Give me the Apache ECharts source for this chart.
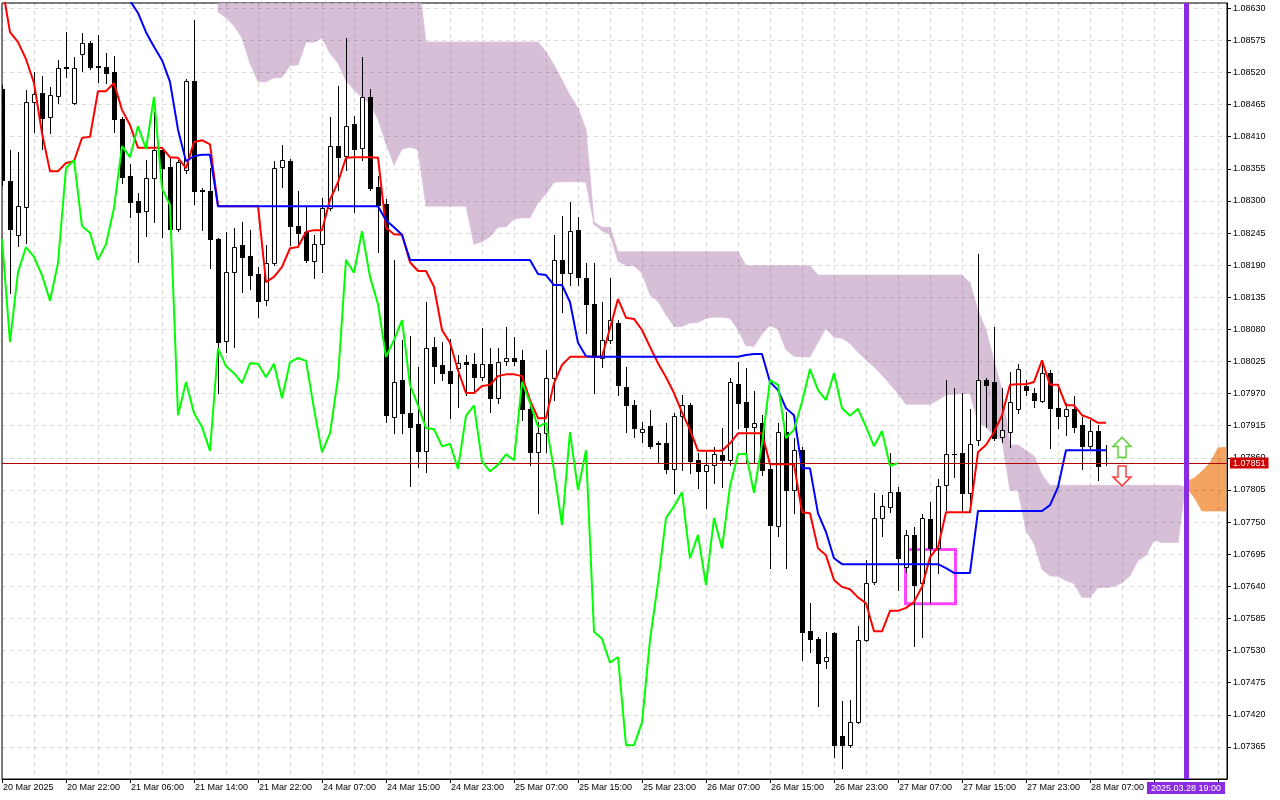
<!DOCTYPE html>
<html>
<head>
<meta charset="utf-8">
<title>EURUSD H1 Ichimoku</title>
<script src="https://cdn.jsdelivr.net/npm/echarts@6.0.0/dist/echarts.min.js"></script>
<style>
html,body{margin:0;padding:0;background:#ffffff;overflow:hidden;}
#chart{width:1280px;height:800px;}
</style>
</head>
<body>
<div id="chart"></div>
<script>
// ---------- tick labels (one every 8 hourly bars) ----------
const xLabels = ['20 Mar 2025','20 Mar 22:00','21 Mar 06:00','21 Mar 14:00','21 Mar 22:00',
  '24 Mar 07:00','24 Mar 15:00','24 Mar 23:00','25 Mar 07:00','25 Mar 15:00','25 Mar 23:00',
  '26 Mar 07:00','26 Mar 15:00','26 Mar 23:00','27 Mar 07:00','27 Mar 15:00','27 Mar 23:00',
  '28 Mar 07:00',''];

// ---------- candles, bar 0 .. 138 ----------
const opens = [
1.08492,1.08334,1.08242,1.08290,1.08469,1.08485,1.08444,1.08480,1.08529,1.08468,
1.08552,1.08571,1.08531,1.08529,1.08521,1.08440,1.08343,1.08300,1.08283,1.08339,
1.08387,1.08358,1.08252,1.08353,1.08505,1.08319,1.08317,1.08235,1.08060,1.08178,
1.08225,1.08206,1.08175,1.08130,1.08194,1.08358,1.08368,1.08257,1.08247,1.08197,
1.08226,1.08288,1.08394,1.08377,1.08432,1.08391,1.08478,1.08324,1.08295,1.07930,
1.07993,1.07937,1.07918,1.07872,1.08050,1.08019,1.08009,1.08014,1.08024,1.08021,
1.07998,1.08021,1.07962,1.08026,1.08031,1.08027,1.07944,1.07870,1.07902,1.07997,
1.08199,1.08177,1.08250,1.08168,1.08123,1.08031,1.08062,1.08091,1.07981,1.07950,
1.07904,1.07914,1.07885,1.07885,1.07841,1.07932,1.07950,1.07856,1.07837,1.07848,
1.07865,1.07856,1.07986,1.07956,1.07913,1.07920,1.07841,1.07743,1.07904,1.07805,
1.07873,1.07563,1.07550,1.07512,1.07560,1.07383,1.07368,1.07407,1.07548,1.07647,
1.07757,1.07776,1.07801,1.07673,1.07728,1.07646,1.07755,1.07705,1.07813,1.07866,
1.07868,1.07800,1.07891,1.07993,1.07990,1.07896,1.07904,1.07944,1.07983,1.07971,
1.07957,1.08005,1.07945,1.07932,1.07944,1.07916,1.07880,1.07906,1.07852];
const highs = [
1.08499,1.08387,1.08384,1.08490,1.08521,1.08514,1.08495,1.08541,1.08589,1.08547,
1.08588,1.08574,1.08584,1.08553,1.08548,1.08444,1.08363,1.08314,1.08370,1.08452,
1.08392,1.08374,1.08370,1.08509,1.08610,1.08322,1.08356,1.08237,1.08247,1.08254,
1.08264,1.08250,1.08187,1.08225,1.08368,1.08396,1.08372,1.08317,1.08290,1.08242,
1.08305,1.08444,1.08497,1.08579,1.08446,1.08547,1.08492,1.08343,1.08303,1.08199,
1.08062,1.08069,1.08015,1.08127,1.08067,1.08058,1.08063,1.08036,1.08036,1.08039,
1.08082,1.08048,1.08048,1.08084,1.08067,1.08045,1.07959,1.07921,1.08045,1.08242,
1.08274,1.08298,1.08273,1.08194,1.08194,1.08127,1.08168,1.08096,1.08015,1.07959,
1.07921,1.07942,1.07889,1.07920,1.07937,1.07968,1.07954,1.07868,1.07870,1.07878,
1.07911,1.07997,1.08024,1.08014,1.07974,1.07933,1.07851,1.07920,1.07938,1.07894,
1.07878,1.07611,1.07553,1.07562,1.07562,1.07443,1.07445,1.07572,1.07685,1.07800,
1.07796,1.07868,1.07810,1.07736,1.07741,1.07764,1.07784,1.07824,1.07993,1.07980,
1.07971,1.07944,1.08209,1.07997,1.08084,1.07980,1.08007,1.08021,1.07993,1.07980,
1.08021,1.08010,1.07986,1.07954,1.07966,1.07930,1.07925,1.07916,1.07882];
const lows = [
1.08327,1.08142,1.08223,1.08228,1.08418,1.08389,1.08416,1.08468,1.08512,1.08466,
1.08523,1.08526,1.08504,1.08502,1.08418,1.08331,1.08273,1.08195,1.08240,1.08264,
1.08238,1.08245,1.08248,1.08348,1.08295,1.08250,1.08185,1.07971,1.08041,1.08050,
1.08144,1.08149,1.08101,1.08122,1.08190,1.08324,1.08225,1.08225,1.08195,1.08168,
1.08178,1.08285,1.08319,1.08353,1.08281,1.08370,1.08319,1.08213,1.07921,1.07902,
1.07902,1.07812,1.07844,1.07836,1.07988,1.07993,1.07928,1.07947,1.07967,1.07973,
1.07993,1.07938,1.07954,1.08019,1.08019,1.07925,1.07848,1.07765,1.07870,1.07959,
1.08110,1.08156,1.08156,1.08074,1.07971,1.08015,1.08057,1.07968,1.07904,1.07896,
1.07887,1.07877,1.07851,1.07834,1.07800,1.07839,1.07834,1.07808,1.07774,1.07817,
1.07810,1.07848,1.07911,1.07853,1.07853,1.07830,1.07671,1.07726,1.07671,1.07765,
1.07514,1.07527,1.07435,1.07500,1.07347,1.07329,1.07365,1.07406,1.07546,1.07644,
1.07726,1.07767,1.07634,1.07664,1.07538,1.07553,1.07613,1.07663,1.07771,1.07827,
1.07767,1.07767,1.07882,1.07913,1.07891,1.07887,1.07878,1.07937,1.07968,1.07947,
1.07956,1.07877,1.07911,1.07899,1.07904,1.07841,1.07877,1.07822,1.07848];
const closes = [
1.08336,1.08252,1.08291,1.08469,1.08483,1.08442,1.08481,1.08528,1.08528,1.08528,
1.08571,1.08529,1.08529,1.08519,1.08440,1.08341,1.08298,1.08281,1.08339,1.08387,
1.08356,1.08252,1.08367,1.08505,1.08317,1.08317,1.08235,1.08058,1.08178,1.08221,
1.08204,1.08173,1.08129,1.08194,1.08356,1.08370,1.08257,1.08245,1.08199,1.08226,
1.08288,1.08394,1.08375,1.08428,1.08389,1.08478,1.08322,1.08293,1.07933,1.07990,
1.07937,1.07913,1.07872,1.08048,1.08017,1.08005,1.07988,1.08022,1.08021,1.07998,
1.08021,1.07962,1.08024,1.08031,1.08026,1.07944,1.07870,1.07902,1.07997,1.08199,
1.08177,1.08248,1.08170,1.08123,1.08033,1.08062,1.08096,1.07985,1.07950,1.07911,
1.07909,1.07880,1.07884,1.07841,1.07932,1.07950,1.07854,1.07837,1.07848,1.07866,
1.07856,1.07990,1.07954,1.07913,1.07920,1.07839,1.07745,1.07904,1.07805,1.07873,
1.07562,1.07550,1.07509,1.07519,1.07368,1.07368,1.07407,1.07548,1.07646,1.07757,
1.07777,1.07801,1.07688,1.07728,1.07642,1.07757,1.07705,1.07812,1.07866,1.07867,
1.07800,1.07884,1.07993,1.07985,1.07894,1.07908,1.07956,1.08012,1.07976,1.07959,
1.08005,1.07945,1.07932,1.07944,1.07913,1.07880,1.07906,1.07846,1.07851];

// ---------- Ichimoku lines ----------
const tenkan = [
1.08670,1.08589,1.08572,1.08543,1.08502,1.08416,1.08351,1.08351,1.08365,1.08368,
1.08408,1.08410,1.08488,1.08488,1.08502,1.08456,1.08430,1.08391,1.08391,1.08391,
1.08391,1.08375,1.08374,1.08356,1.08401,1.08404,1.08397,1.08291,1.08291,1.08291,
1.08291,1.08291,1.08291,1.08161,1.08170,1.08187,1.08219,1.08221,1.08247,1.08250,
1.08250,1.08302,1.08332,1.08374,1.08375,1.08375,1.08375,1.08374,1.08254,1.08243,
1.08242,1.08195,1.08180,1.08180,1.08153,1.08079,1.08057,1.08010,1.07971,1.07971,
1.07983,1.07985,1.08000,1.08003,1.08003,1.08000,1.07959,1.07928,1.07928,1.07988,
1.08019,1.08033,1.08033,1.08033,1.08033,1.08033,1.08082,1.08132,1.08100,1.08098,
1.08079,1.08050,1.08022,1.07998,1.07971,1.07938,1.07908,1.07872,1.07872,1.07872,
1.07872,1.07885,1.07902,1.07902,1.07902,1.07902,1.07849,1.07849,1.07849,1.07849,
1.07767,1.07765,1.07705,1.07693,1.07651,1.07639,1.07635,1.07621,1.07611,1.07563,
1.07563,1.07598,1.07598,1.07603,1.07613,1.07639,1.07690,1.07707,1.07767,1.07767,
1.07767,1.07767,1.07870,1.07882,1.07904,1.07933,1.07985,1.07986,1.07986,1.07990,
1.08027,1.07985,1.07985,1.07950,1.07950,1.07933,1.07928,1.07920,1.07920];
const kijun = [
1.08656,1.08656,1.08656,1.08656,1.08656,1.08656,1.08656,1.08656,1.08656,1.08656,
1.08656,1.08656,1.08656,1.08656,1.08656,1.08651,1.08643,1.08622,1.08589,1.08564,
1.08541,1.08504,1.08422,1.08368,1.08377,1.08379,1.08379,1.08291,1.08291,1.08291,
1.08291,1.08291,1.08291,1.08291,1.08291,1.08291,1.08291,1.08291,1.08291,1.08291,
1.08291,1.08291,1.08291,1.08291,1.08291,1.08291,1.08291,1.08291,1.08267,1.08255,
1.08242,1.08199,1.08199,1.08199,1.08199,1.08199,1.08199,1.08199,1.08199,1.08199,
1.08199,1.08199,1.08199,1.08199,1.08199,1.08199,1.08199,1.08175,1.08173,1.08156,
1.08156,1.08127,1.08057,1.08034,1.08033,1.08033,1.08033,1.08033,1.08033,1.08033,
1.08033,1.08033,1.08033,1.08033,1.08033,1.08033,1.08033,1.08033,1.08033,1.08033,
1.08033,1.08033,1.08033,1.08036,1.08038,1.08038,1.07990,1.07976,1.07945,1.07933,
1.07842,1.07842,1.07765,1.07733,1.07688,1.07678,1.07678,1.07678,1.07678,1.07678,
1.07678,1.07678,1.07678,1.07678,1.07678,1.07678,1.07678,1.07678,1.07671,1.07663,
1.07663,1.07663,1.07769,1.07769,1.07769,1.07769,1.07769,1.07769,1.07769,1.07769,
1.07769,1.07779,1.07810,1.07873,1.07873,1.07873,1.07873,1.07873,1.07873];
// Chikou span, drawn at bars 0 .. 112
const chikou = [
1.08235,1.08058,1.08178,1.08221,1.08204,1.08173,1.08129,1.08194,1.08356,1.08370,
1.08257,1.08245,1.08199,1.08226,1.08288,1.08394,1.08375,1.08428,1.08389,1.08478,
1.08322,1.08293,1.07933,1.07990,1.07937,1.07913,1.07872,1.08048,1.08017,1.08005,
1.07988,1.08022,1.08021,1.07998,1.08021,1.07962,1.08024,1.08031,1.08026,1.07944,
1.07870,1.07902,1.07997,1.08199,1.08177,1.08248,1.08170,1.08123,1.08033,1.08062,
1.08096,1.07985,1.07950,1.07911,1.07909,1.07880,1.07884,1.07841,1.07932,1.07950,
1.07854,1.07837,1.07848,1.07866,1.07856,1.07990,1.07954,1.07913,1.07920,1.07839,
1.07745,1.07904,1.07805,1.07873,1.07562,1.07550,1.07509,1.07519,1.07368,1.07368,
1.07407,1.07548,1.07646,1.07757,1.07777,1.07801,1.07688,1.07728,1.07642,1.07757,
1.07705,1.07812,1.07866,1.07867,1.07800,1.07884,1.07993,1.07985,1.07894,1.07908,
1.07956,1.08012,1.07976,1.07959,1.08005,1.07945,1.07932,1.07944,1.07913,1.07880,
1.07906,1.07846,1.07851];
// Senkou spans, bars 27 .. 153
const cloudStart = 27;
const spanA = [
1.08623,1.08614,1.08600,1.08579,1.08536,1.08504,1.08504,1.08511,1.08512,1.08532,
1.08533,1.08572,1.08572,1.08579,1.08553,1.08536,1.08506,1.08490,1.08477,1.08466,
1.08440,1.08398,1.08362,1.08389,1.08392,1.08388,1.08291,1.08291,1.08291,1.08291,
1.08291,1.08291,1.08226,1.08230,1.08239,1.08255,1.08256,1.08269,1.08271,1.08271,
1.08297,1.08312,1.08332,1.08333,1.08333,1.08333,1.08332,1.08260,1.08249,1.08242,
1.08197,1.08189,1.08189,1.08176,1.08139,1.08128,1.08105,1.08085,1.08085,1.08091,
1.08092,1.08099,1.08101,1.08101,1.08099,1.08079,1.08052,1.08051,1.08072,1.08087,
1.08080,1.08045,1.08034,1.08033,1.08033,1.08058,1.08082,1.08066,1.08065,1.08056,
1.08041,1.08028,1.08016,1.08002,1.07986,1.07970,1.07952,1.07952,1.07952,1.07952,
1.07959,1.07968,1.07969,1.07970,1.07970,1.07920,1.07913,1.07897,1.07891,1.07805,
1.07804,1.07736,1.07713,1.07669,1.07658,1.07657,1.07650,1.07645,1.07621,1.07621,
1.07638,1.07638,1.07640,1.07646,1.07658,1.07684,1.07693,1.07719,1.07715,1.07715,
1.07715,1.07819,1.07825,1.07837,1.07851,1.07877,1.07878];
const spanB = [
1.08687,1.08687,1.08687,1.08687,1.08687,1.08687,1.08687,1.08687,1.08687,1.08687,
1.08687,1.08687,1.08687,1.08687,1.08687,1.08687,1.08687,1.08687,1.08687,1.08687,
1.08687,1.08687,1.08687,1.08687,1.08687,1.08687,1.08572,1.08572,1.08572,1.08572,
1.08572,1.08572,1.08572,1.08572,1.08572,1.08572,1.08572,1.08572,1.08572,1.08572,
1.08572,1.08555,1.08533,1.08507,1.08481,1.08459,1.08422,1.08264,1.08255,1.08255,
1.08213,1.08213,1.08213,1.08213,1.08213,1.08213,1.08213,1.08213,1.08213,1.08213,
1.08213,1.08213,1.08213,1.08213,1.08213,1.08213,1.08189,1.08189,1.08189,1.08189,
1.08189,1.08189,1.08189,1.08189,1.08189,1.08173,1.08173,1.08173,1.08173,1.08173,
1.08173,1.08173,1.08173,1.08173,1.08173,1.08173,1.08173,1.08173,1.08173,1.08173,
1.08173,1.08173,1.08173,1.08173,1.08160,1.08113,1.08079,1.08027,1.07976,1.07882,
1.07882,1.07873,1.07863,1.07831,1.07813,1.07813,1.07813,1.07813,1.07813,1.07813,
1.07813,1.07813,1.07813,1.07813,1.07813,1.07813,1.07813,1.07813,1.07813,1.07813,
1.07813,1.07810,1.07793,1.07769,1.07769,1.07769,1.07769];

// ---------- annotations ----------
const lastPrice = 1.07851;
const markerBar = 148, markerLabel = '2025.03.28 19:00';
const signalBar = 140, upArrowPrice = 1.07878, downArrowPrice = 1.07829;
const boxFrom = [112.94, 1.07703], boxTo = [119.19, 1.07610];

// ---------- build ----------
const FONT = '"Liberation Sans", Arial, sans-serif';
const X_MAX = 153.125;
const THISTLE = '#D8BFD8', ORANGE = '#F4A460';
const gridLine = { show: true, lineStyle: { color: 'rgba(0,0,0,0.15)', type: [4, 4], width: 1 } };

const candleData = closes.map((c, i) => [i, opens[i], c, lows[i], highs[i]]);
const cloudData = [];
for (let i = 0; i < spanA.length - 1; i++) {
  cloudData.push([cloudStart + i, spanA[i], spanB[i], spanA[i + 1], spanB[i + 1]]);
}

function renderCloud(params, api) {
  const k = api.value(0), a0 = api.value(1), b0 = api.value(2), a1 = api.value(3), b1 = api.value(4);
  const d0 = b0 - a0, d1 = b1 - a1;
  const children = [];
  function poly(xa, lo0, hi0, xb, lo1, hi1, color) {
    children.push({
      type: 'polygon',
      shape: { points: [api.coord([xa, hi0]), api.coord([xb, hi1]), api.coord([xb, lo1]), api.coord([xa, lo0])] },
      style: { fill: color, stroke: color, lineWidth: 0.7 }
    });
  }
  if (d0 * d1 < 0) {
    const t = d0 / (d0 - d1);
    const xc = k + t, yc = a0 + t * (a1 - a0);
    poly(k, a0, b0, xc, yc, yc, d0 > 0 ? THISTLE : ORANGE);
    poly(xc, yc, yc, k + 1, a1, b1, d1 > 0 ? THISTLE : ORANGE);
  } else {
    poly(k, a0, b0, k + 1, a1, b1, (d0 + d1) >= 0 ? THISTLE : ORANGE);
  }
  return { type: 'group', children: children };
}

function renderCandle(params, api) {
  const k = api.value(0), o = api.value(1), c = api.value(2), l = api.value(3), h = api.value(4);
  const pO = api.coord([k, o]), pC = api.coord([k, c]);
  const pH = api.coord([k, h]), pL = api.coord([k, l]);
  const x = Math.round(pO[0]);
  const yT = Math.round(Math.min(pO[1], pC[1]));
  const yB = Math.round(Math.max(pO[1], pC[1]));
  const children = [{
    type: 'line',
    shape: { x1: x + 0.5, y1: Math.round(pH[1]), x2: x + 0.5, y2: Math.round(pL[1]) + 1 },
    style: { stroke: '#000', lineWidth: 1 }
  }];
  if (yB - yT < 1) {
    children.push({ type: 'line', shape: { x1: x - 2, y1: yT + 0.5, x2: x + 3, y2: yT + 0.5 }, style: { stroke: '#000', lineWidth: 1 } });
  } else if (c > o) {
    children.push({ type: 'rect', shape: { x: x - 1.5, y: yT + 0.5, width: 4, height: yB - yT }, style: { fill: '#ffffff', stroke: '#000', lineWidth: 1 } });
  } else {
    children.push({ type: 'rect', shape: { x: x - 2, y: yT, width: 5, height: yB - yT + 1 }, style: { fill: '#000' } });
  }
  return { type: 'group', children: children };
}

const chart = echarts.init(document.getElementById('chart'), null, { renderer: 'canvas' });
const option = {
  backgroundColor: '#ffffff',
  animation: false,
  textStyle: { fontFamily: FONT },
  grid: { left: 2, right: 53, top: 3, bottom: 21, show: true, borderColor: '#000', borderWidth: 1,
          backgroundColor: 'transparent', containLabel: false, outerBoundsMode: 'none' },
  xAxis: [
    { type: 'value', min: 0, max: X_MAX, interval: 8, position: 'bottom', z: 2,
      axisLine: { show: true, onZero: false, lineStyle: { color: '#000', width: 1 } },
      axisTick: { show: true, length: 4, lineStyle: { color: '#000' } },
      axisLabel: { show: true, color: '#000', fontSize: 9, fontFamily: FONT, align: 'left', margin: 4,
        padding: [0, 0, 0, 1], showMinLabel: true, showMaxLabel: false,
        formatter: function (v) {
          const i = Math.round(v / 8);
          if (Math.abs(v - i * 8) > 1e-6) return '';
          return xLabels[i] || '';
        } },
      splitLine: { show: false } },
    { type: 'value', min: 0, max: X_MAX, interval: 4, position: 'top', z: 2,
      axisLine: { show: false }, axisTick: { show: false }, axisLabel: { show: false },
      splitLine: gridLine }
  ],
  yAxis: {
    type: 'value', position: 'right', min: 1.07310, max: 1.08639, interval: 0.00055, z: 2,
    axisLine: { show: true, onZero: false, lineStyle: { color: '#000', width: 1 } },
    axisTick: { show: true, length: 4, lineStyle: { color: '#000' } },
    axisLabel: { color: '#000', fontSize: 9, fontFamily: FONT, margin: 6, showMinLabel: false, showMaxLabel: false,
      formatter: function (v) { return v.toFixed(5); } },
    splitLine: gridLine
  },
  series: [
    { type: 'custom', name: 'Cloud', z: 1, clip: true, silent: true,
      renderItem: renderCloud, data: cloudData, encode: { x: 0, y: [1, 2, 3, 4] } },
    { type: 'custom', name: 'EURUSD', z: 3, clip: true, silent: true,
      renderItem: renderCandle, data: candleData, encode: { x: 0, y: [1, 2, 3, 4] } },
    { type: 'line', name: 'Tenkan-sen', z: 4, silent: true, showSymbol: false, symbol: 'none',
      data: tenkan.map((v, i) => [i, v]), lineStyle: { color: '#FF0000', width: 2 } },
    { type: 'line', name: 'Kijun-sen', z: 4, silent: true, showSymbol: false, symbol: 'none',
      data: kijun.map((v, i) => [i, v]), lineStyle: { color: '#0000FF', width: 2 } },
    { type: 'line', name: 'Chikou Span', z: 5, silent: true, showSymbol: false, symbol: 'none', clip: false,
      data: chikou.map((v, i) => [i, v]), lineStyle: { color: '#00FF00', width: 2 },
      markLine: {
        silent: true, symbol: ['none', 'none'], animation: false, precision: 5, emphasis: { disabled: true },
        data: [
          { yAxis: lastPrice, lineStyle: { color: '#B00000', width: 1, type: 'solid' },
            label: { show: true, position: 'end', formatter: lastPrice.toFixed(5), color: '#ffffff',
              backgroundColor: '#CC0000', padding: [1, 3, 1, 3], fontSize: 9, fontFamily: FONT, distance: 3 } },
          { xAxis: markerBar, lineStyle: { color: '#8A2BE2', width: 5, type: 'solid' },
            label: { show: true, position: 'start', formatter: markerLabel, color: '#ffffff',
              backgroundColor: '#8A2BE2', padding: [2, 4, 1, 4], fontSize: 9, fontFamily: FONT, distance: 3 } }
        ]
      },
      markArea: {
        silent: true, emphasis: { disabled: true },
        itemStyle: { color: 'rgba(0,0,0,0)', borderColor: '#FF44FF', borderWidth: 3 },
        data: [[ { coord: boxFrom }, { coord: boxTo } ]]
      },
      markPoint: {
        silent: true, animation: false, label: { show: false },
        data: [
          { coord: [signalBar, upArrowPrice], symbol: 'path://M9,0L18,9L13,9L13,20L5,20L5,9L0,9Z', symbolSize: [18, 20],
            itemStyle: { color: '#ffffff', borderColor: '#5FD43A', borderWidth: 1.5 } },
          { coord: [signalBar, downArrowPrice], symbol: 'path://M5,0L13,0L13,11L18,11L9,20L0,11L5,11Z', symbolSize: [18, 20],
            itemStyle: { color: '#ffffff', borderColor: '#FF3B3B', borderWidth: 1.5 } }
        ]
      }
    }
  ]
};
chart.setOption(option);
</script>
</body>
</html>
